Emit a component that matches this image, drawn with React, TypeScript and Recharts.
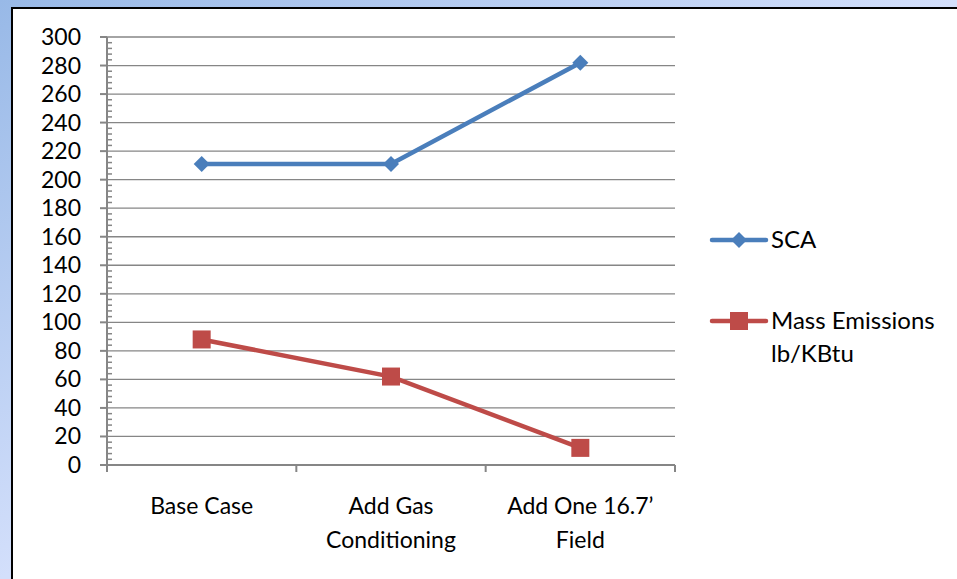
import { LineChart, Line, XAxis, YAxis, CartesianGrid } from "recharts";

const categories = ["Base Case", "Add Gas\nConditioning", "Add One 16.7’\nField"];
const scaValues = [211, 211, 282];
const massValues = [88, 62, 12];
const yTicks = [0, 20, 40, 60, 80, 100, 120, 140, 160, 180, 200, 220, 240, 260, 280, 300];
// minor tick marks every 4 units, labels only on the 20s
const minorTicks = Array.from({ length: 76 }, (_, i) => i * 4);

const BLUE = "#4a7ebb";
const RED = "#be4b48";
const GRAY = "#868686";
const FONT = "Lato, 'Open Sans', sans-serif";

const data = categories.map((name, i) => ({ name, sca: scaValues[i], mass: massValues[i] }));

function Diamond({ cx, cy }: any) {
  if (cx == null || cy == null) return null;
  const r = 8;
  return <polygon points={`${cx},${cy - r} ${cx + r},${cy} ${cx},${cy + r} ${cx - r},${cy}`} fill={BLUE} />;
}

function Square({ cx, cy }: any) {
  if (cx == null || cy == null) return null;
  const r = 9;
  return <rect x={cx - r} y={cy - r} width={r * 2} height={r * 2} fill={RED} />;
}

function CatTick({ x, y, payload, index, visibleTicksCount }: any) {
  const lines = String(payload.value).split("\n");
  const half = payload.offset || 0;
  const last = index === (visibleTicksCount ?? categories.length) - 1;
  return (
    <g>
      <line x1={x - half} x2={x - half} y1={y} y2={y + 7} stroke={GRAY} strokeWidth={2} />
      {last && <line x1={x + half} x2={x + half} y1={y} y2={y + 7} stroke={GRAY} strokeWidth={2} />}
      <text x={x} y={y + 49} textAnchor="middle" fontSize={23} fontFamily={FONT} fill="#000">
        {lines.map((l, i) => (
          <tspan key={i} x={x} dy={i === 0 ? 0 : 34}>
            {l}
          </tspan>
        ))}
      </text>
    </g>
  );
}

function ValueTick({ x, y, payload }: any) {
  const v = Number(payload.value);
  if (yTicks.includes(v)) {
    return (
      <g>
        <line x1={x - 7} x2={x} y1={y} y2={y} stroke={GRAY} strokeWidth={2} />
        <text x={x - 26} y={y} dy={8} textAnchor="end" fontSize={23} fontFamily={FONT} fill="#000">
          {v}
        </text>
      </g>
    );
  }
  return <line x1={x} x2={x + 5} y1={y} y2={y} stroke={GRAY} strokeWidth={1.5} />;
}

function LegendBox() {
  return (
    <svg width={250} height={160} style={{ position: "absolute", left: 700, top: 215 }}>
      <g>
        <line x1={12} x2={66} y1={25} y2={25} stroke={BLUE} strokeWidth={4.5} strokeLinecap="round" />
        <polygon points="39,17 47,25 39,33 31,25" fill={BLUE} />
        <text x={71} y={33} fontSize={24} fontFamily={FONT} fill="#000">SCA</text>
      </g>
      <g>
        <line x1={12} x2={66} y1={106} y2={106} stroke={RED} strokeWidth={4.5} strokeLinecap="round" />
        <rect x={30} y={97} width={18} height={18} fill={RED} />
        <text x={71} y={114} fontSize={24} fontFamily={FONT} fill="#000">
          <tspan x={71}>Mass Emissions</tspan>
          <tspan x={71} dy={33}>lb/KBtu</tspan>
        </text>
      </g>
    </svg>
  );
}

export default function App() {
  return (
    <div
      style={{
        position: "fixed",
        top: 0,
        left: 0,
        width: 957,
        height: 579,
        overflow: "hidden",
        background: "linear-gradient(to bottom right, #98b9e7 0%, #d3dffb 50%, #dde6fd 100%)",
      }}
    >
      <div
        style={{
          position: "absolute",
          left: 11,
          top: 7,
          width: 1000,
          height: 700,
          background: "#fff",
          border: "2px solid #000",
        }}
      />
      <div style={{ position: "absolute", left: 0, top: 0 }}>
        <LineChart width={957} height={579} data={data} margin={{ top: 37, right: 282, bottom: 0, left: 0 }}>
          <CartesianGrid horizontal vertical={false} stroke={GRAY} strokeWidth={1.3} horizontalValues={yTicks} />
          <XAxis
            dataKey="name"
            scale="band"
            height={114}
            axisLine={{ stroke: GRAY, strokeWidth: 2 }}
            tickLine={false}
            tickSize={0}
            tickMargin={0}
            tick={<CatTick />}
            interval={0}
          />
          <YAxis
            width={107}
            domain={[0, 300]}
            ticks={minorTicks}
            interval={0}
            axisLine={{ stroke: GRAY, strokeWidth: 2 }}
            tickLine={false}
            tickSize={0}
            tickMargin={0}
            tick={<ValueTick />}
          />
          <Line
            dataKey="sca"
            name="SCA"
            stroke={BLUE}
            strokeWidth={4.5}
            dot={<Diamond />}
            activeDot={false}
            isAnimationActive={false}
          />
          <Line
            dataKey="mass"
            name="Mass Emissions lb/KBtu"
            stroke={RED}
            strokeWidth={4.5}
            dot={<Square />}
            activeDot={false}
            isAnimationActive={false}
          />
        </LineChart>
      </div>
      <LegendBox />
    </div>
  );
}
